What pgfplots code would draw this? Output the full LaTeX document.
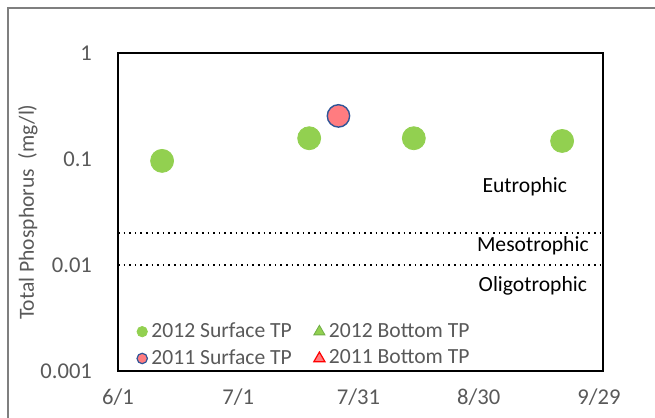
\documentclass[border=0pt]{standalone}
\usepackage{fontspec}
\setmainfont{Carlito}
\usepackage{pgfplots}
\pgfplotsset{compat=1.18}
\definecolor{tpgreen}{HTML}{92D050}
\definecolor{tpgreendk}{HTML}{70AD47}
\definecolor{tpred}{HTML}{FF7C80}
\definecolor{tpblue}{HTML}{2F5597}
\definecolor{txtgray}{HTML}{595959}
\definecolor{framegray}{HTML}{7F7F7F}
\begin{document}
\begin{tikzpicture}[font=\fontsize{10.8}{13}\selectfont]
\useasboundingbox (0,0) rectangle (327.5pt,209pt);
% chart area frame (cut off at the right and bottom)
\draw[framegray, line width=0.9pt] (4pt,-5pt) -- (4pt,205pt) -- (335pt,205pt);
\begin{axis}[
  at={(59pt,23.5pt)}, anchor=south west,
  scale only axis, width=242.5pt, height=159pt,
  ymode=log, ymin=0.001, ymax=1,
  xmin=0, xmax=121,
  xtick={0,30,60,90,120},
  xticklabels={6/1,7/1,7/31,8/30,9/29},
  ytick={0.001,0.01,0.1,1},
  yticklabels={0.001,0.01,0.1,1},
  /pgf/number format/assume math mode=true,
  major tick length=0pt, minor tick length=0pt,
  yminorticks=false, xminorticks=false,
  axis line style={line width=1pt},
  ticklabel style={text=txtgray, font=\fontsize{11.3}{13}\selectfont},
  xticklabel style={yshift=-5.5pt},
  yticklabel style={anchor=east, xshift=-9.5pt},
  ylabel={Total Phosphorus\ \ (mg/l)},
  ylabel style={text=txtgray, at={(axis description cs:-0.186,0.5)}, anchor=center, rotate=0},
  legend columns=2,
  legend cell align=left,
  legend style={draw=none, fill=none, text=txtgray,
    at={(axis description cs:0.026,-0.015)}, anchor=south west,
    row sep=0.5pt,
    /tikz/every even column/.append style={column sep=9pt}},
]
\addplot[dotted, line width=0.8pt, forget plot] coordinates {(0,0.02) (121,0.02)};
\addplot[dotted, line width=0.8pt, forget plot] coordinates {(0,0.01) (121,0.01)};
\addplot[only marks, mark=*, mark size=5.75pt, mark options={fill=tpgreen, draw=tpgreen}, forget plot]
  coordinates {(11,0.096) (47.7,0.157) (73.8,0.157) (110.8,0.148)};
\addplot[only marks, mark=*, mark size=5.6pt, mark options={fill=tpred, draw=tpblue, line width=0.7pt}, forget plot]
  coordinates {(55,0.255)};
\addlegendimage{only marks, mark=*, mark size=2.6pt, mark options={fill=tpgreen, draw=tpgreen}}
\addlegendentry{2012 Surface TP}
\addlegendimage{only marks, mark=triangle*, mark size=3.2pt, mark options={fill=tpgreen, draw=tpgreendk}}
\addlegendentry{2012 Bottom TP}
\addlegendimage{only marks, mark=*, mark size=2.6pt, mark options={fill=tpred, draw=tpblue, line width=0.6pt}}
\addlegendentry{2011 Surface TP}
\addlegendimage{only marks, mark=triangle*, mark size=3.2pt, mark options={fill=tpred, draw=red, line width=0.6pt}}
\addlegendentry{2011 Bottom TP}
\node at (axis cs:101.5,0.0544) {Eutrophic};
\node at (axis cs:103.5,0.0151) {Mesotrophic};
\node at (axis cs:103.5,0.00634) {Oligotrophic};
\end{axis}
\end{tikzpicture}
\end{document}
